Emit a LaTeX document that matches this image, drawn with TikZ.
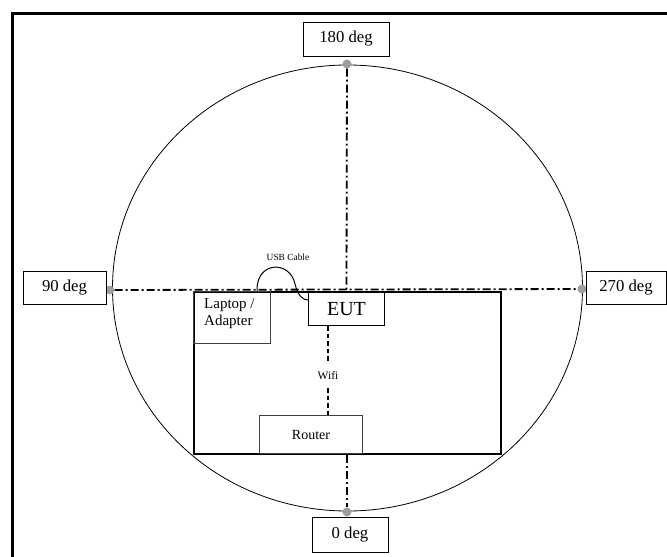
\documentclass[tikz,border=0pt]{standalone}
\usepackage{fontspec}
\setmainfont{Liberation Serif}
\begin{document}
\begin{tikzpicture}[x=1pt,y=-1pt,
  lbl/.style={draw=black,line width=0.9pt,fill=white,inner sep=0pt,font=\fontsize{16.7}{18}\selectfont},
  dotm/.style={circle,fill=black!38,inner sep=0pt,minimum size=9pt},
  dashdot/.style={line width=1.8pt,dash pattern=on 8pt off 3pt on 2pt off 3pt},
  wifiline/.style={line width=2.4pt,dash pattern=on 4.5pt off 3pt},
  thinbox/.style={draw=black!75,line width=1pt,inner sep=0pt}]
\useasboundingbox (0,0) rectangle (667,557);
% outer frame
\draw[line width=3.6pt] (12.5,557) -- (12.5,13.5) -- (667,13.5);
% chamber circle
\draw[line width=0.8pt] (347.5,288) ellipse [x radius=235, y radius=223];
% dots
\node[dotm] (d180) at (347,64) {};
\node[dotm] (d0) at (347,512) {};
\node[dotm] (d90) at (110,290) {};
\node[dotm] (d270) at (582,289) {};
% labels
\node[lbl,minimum width=86pt,minimum height=34pt] (l180) at (346,39) {180 deg};
\node[lbl,minimum width=76pt,minimum height=35pt] (l0) at (350,534.5) {0 deg};
\node[lbl,minimum width=83pt,minimum height=33pt] (l90) at (64.5,287.5) {90 deg};
\node[lbl,minimum width=80pt,minimum height=33pt] (l270) at (626,287.5) {270 deg};
% room, EUT
\node[draw=black,line width=2pt,minimum width=307pt,minimum height=162pt,inner sep=0pt,anchor=north west] (room) at (193,291) {};
\node[draw=black,line width=1pt,fill=white,inner sep=0pt,minimum width=76pt,minimum height=33pt,anchor=north west,font=\fontsize{20}{22}\selectfont] (eut) at (308,292) {EUT};
% axis lines
\draw[dashdot] (d90) -- (d270);
\draw[dashdot] (d180) -- (eut.north);
\draw[dashdot] (room.south -| d0) -- (d0);
% laptop, router
\node[thinbox,minimum width=77pt,minimum height=52pt,anchor=north west] (laptop) at (193,291) {};
\node[anchor=north west,align=left,inner sep=0pt,font=\fontsize{15}{17}\selectfont] (laptoptxt) at (204,298) {Laptop /\\Adapter};
\node[thinbox,fill=white,minimum width=103pt,minimum height=38pt,anchor=north west,font=\fontsize{14}{16}\selectfont] (router) at (259,415) {Router};
% USB cable
\coordinate (usbA) at (257,291);
\coordinate (usbB) at (308,300);
\draw[line width=1pt] (usbA) .. controls (256,261) and (290,260) .. (295,284) .. controls (298,296) and (303,300) .. (usbB);
\node[font=\fontsize{9.4}{11}\selectfont] (usb) at (288,257) {USB Cable};
% wifi
\node[font=\fontsize{11.5}{13}\selectfont,inner sep=1pt] (wifi) at (328,376) {Wifi};
\draw[wifiline] (eut.south -| wifi) -- (328,363);
\draw[wifiline] (328,388) -- (router.north -| wifi);
\end{tikzpicture}
\end{document}
